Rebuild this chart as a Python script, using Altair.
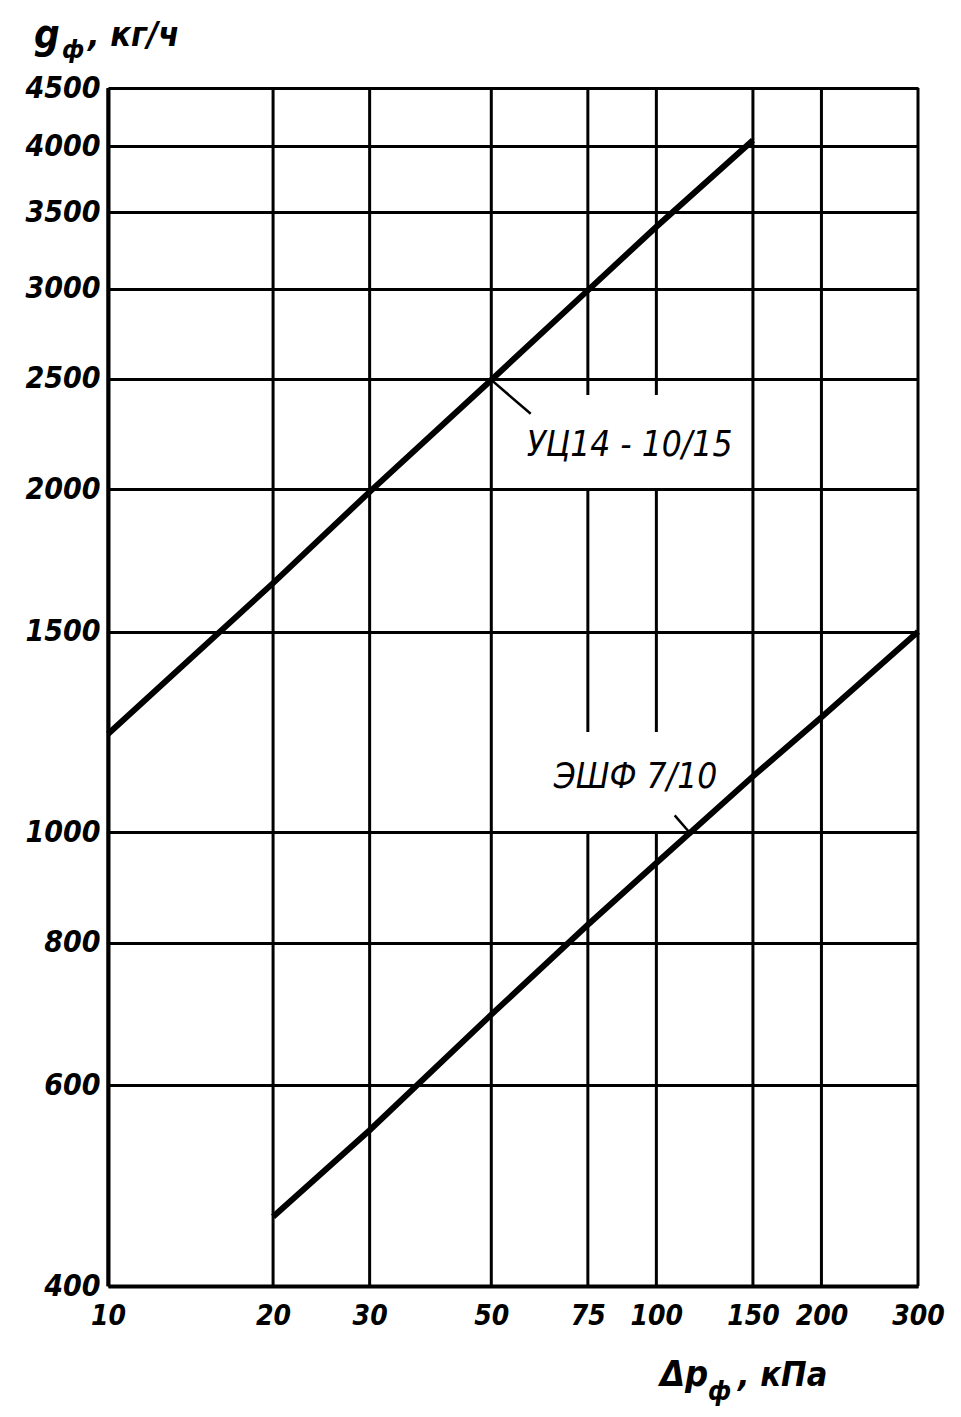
import altair as alt
import pandas as pd

# ---- data ----
x_ticks = [10, 20, 30, 50, 75, 100, 150, 200, 300]
y_ticks = [400, 600, 800, 1000, 1500, 2000, 2500, 3000, 3500, 4000, 4500]

uc_name = "УЦ14 - 10/15"
uc_x = [10, 20, 30, 50, 75, 100, 150]
uc_y = [1220, 1655, 1990, 2495, 2990, 3400, 4050]

esf_name = "ЭШФ 7/10"
esf_x = [20, 30, 50, 75, 100, 150, 200, 300]
esf_y = [460, 548, 692, 830, 940, 1120, 1262, 1500]

# vertical grid segments (the 75 and 100 lines are broken where labels sit)
grid_x = [10, 20, 30, 50, 75, 75, 75, 100, 100, 100, 150, 200, 300]
grid_lo = [400, 400, 400, 400, 400, 1225, 2420, 400, 1225, 2420, 400, 400, 400]
grid_hi = [4500, 4500, 4500, 4500, 1000, 2000, 4500, 1000, 2000, 4500, 4500, 4500, 4500]

# leader strokes from labels to curves
lead_x1 = [50, 108]
lead_y1 = [2495, 1035]
lead_x2 = [59, 116]
lead_y2 = [2330, 995]

# label anchors
label_text = [uc_name, esf_name]
label_x = [58, 65]
label_y = [2140, 1095]

# ---- tables ----
lines_df = pd.DataFrame({
    "dp": uc_x + esf_x,
    "g": uc_y + esf_y,
    "series": [uc_name] * len(uc_x) + [esf_name] * len(esf_x),
})
grid_df = pd.DataFrame({"x": grid_x, "lo": grid_lo, "hi": grid_hi})
lead_df = pd.DataFrame({"x1": lead_x1, "y1": lead_y1, "x2": lead_x2, "y2": lead_y2})
lab_df = pd.DataFrame({"t": label_text, "x": label_x, "y": label_y})

FONT = "DejaVu Sans Condensed"

xscale = alt.Scale(type="log", domain=[10, 300], nice=False)
yscale = alt.Scale(type="log", domain=[400, 4500], nice=False)

xaxis = alt.Axis(
    values=x_ticks, format="d", grid=False, ticks=False,
    domainColor="black", domainWidth=4,
    labelFont=FONT, labelFontSize=28, labelFontStyle="italic", labelFontWeight="bold",
    labelColor="black", labelPadding=16, labelFlush=False, labelOverlap=False,
)
yaxis = alt.Axis(
    values=y_ticks, format="d", grid=True, gridColor="black", gridWidth=3, gridOpacity=1,
    ticks=False, domainColor="black", domainWidth=4,
    labelFont=FONT, labelFontSize=30, labelFontStyle="italic", labelFontWeight="bold",
    labelColor="black", labelPadding=8, labelOverlap=False,
)

vgrid = alt.Chart(grid_df).mark_rule(color="black", strokeWidth=3).encode(
    x=alt.X("x:Q", scale=xscale, axis=xaxis, title=None),
    y=alt.Y("lo:Q", scale=yscale, axis=yaxis, title=None),
    y2="hi:Q",
)

curves = alt.Chart(lines_df).mark_line(color="black", strokeWidth=6).encode(
    x=alt.X("dp:Q", scale=xscale, axis=xaxis, title=None),
    y=alt.Y("g:Q", scale=yscale, axis=yaxis, title=None),
    detail="series:N",
)

leaders = alt.Chart(lead_df).mark_rule(color="black", strokeWidth=2.5).encode(
    x=alt.X("x1:Q", scale=xscale, axis=xaxis, title=None),
    y=alt.Y("y1:Q", scale=yscale, axis=yaxis, title=None),
    x2="x2:Q",
    y2="y2:Q",
)

labels = alt.Chart(lab_df).mark_text(
    font=FONT, fontSize=35, fontStyle="italic", align="left", baseline="alphabetic", color="black"
).encode(
    x=alt.X("x:Q", scale=xscale, axis=xaxis, title=None),
    y=alt.Y("y:Q", scale=yscale, axis=yaxis, title=None),
    text="t:N",
)

# axis titles with subscripts (plain text pieces)
title_parts = [
    ("g", -74, -40, 40),
    ("ф", -46, -30, 25),
    (", кг/ч", -20, -42, 34),
    ("Δp", 552, 1298, 36),
    ("ф", 600, 1312, 26),
    (", кПа", 630, 1298, 34),
]
title_layers = []
for txt, px, py, fs in title_parts:
    title_layers.append(
        alt.Chart(lab_df).mark_text(
            font=FONT, fontSize=fs, fontStyle="italic", fontWeight="bold",
            align="left", baseline="alphabetic", color="black",
        ).encode(x=alt.value(px), y=alt.value(py), text=alt.value(txt))
        .transform_filter(alt.datum.x == label_x[0])
    )

chart = alt.layer(vgrid, curves, leaders, labels, *title_layers).properties(
    width=810, height=1198,
    autosize=alt.AutoSizeParams(type="none"),
    padding={"left": 100, "top": 80, "right": 35, "bottom": 120},
).configure_view(stroke=None).configure(background="white")

chart.save("out.html", embed_options={"renderer": "svg", "actions": False})
